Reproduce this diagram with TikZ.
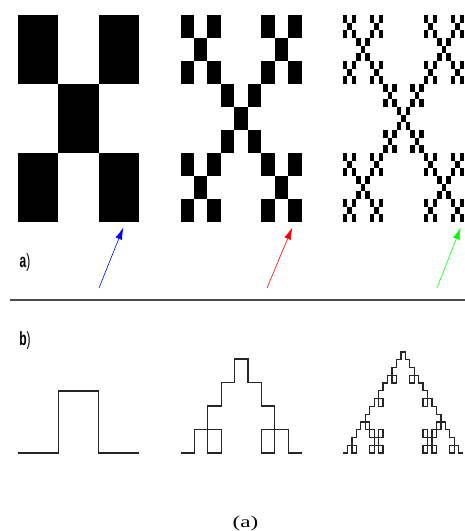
\documentclass[tikz,border=0pt]{standalone}
\usepackage{fontspec}
\setmainfont{Liberation Serif}
\setsansfont{Liberation Sans}
\usepackage{tikz}
\usetikzlibrary{arrows.meta,lindenmayersystems}

\pgfdeclarelindenmayersystem{square koch}{\rule{F -> F+F-F-F+F}}

\tikzset{
  cell/.style={fill=black},
  curve/.style={line width=1.3pt,draw=black!85},
  pointer/.style={line width=0.6pt,-{Latex[length=12pt,width=7pt]}},
  part/.style={font=\sffamily\bfseries\fontsize{12}{12}\selectfont,yscale=1.6}
}

\begin{document}
\begin{tikzpicture}[x=1pt,y=-1pt]
  \useasboundingbox (0,0) rectangle (465,531);
  \def\xcells{0/0,2/0,1/1,0/2,2/2}
  \def\pw{121}
  \def\ph{207}

  % top row: the X fractal, orders 1 to 3
  \foreach \a/\b in \xcells
    \fill[cell] (18+\a*\pw/3,15+\b*\ph/3) rectangle ++(\pw/3,\ph/3);
  \foreach \a/\b in \xcells
    \foreach \c/\d in \xcells
      \fill[cell] (180.5+\a*\pw/3+\c*\pw/9,15+\b*\ph/3+\d*\ph/9) rectangle ++(\pw/9,\ph/9);
  \foreach \a/\b in \xcells
    \foreach \c/\d in \xcells
      \foreach \e/\f in \xcells
        \fill[cell] (343+\a*\pw/3+\c*\pw/9+\e*\pw/27,15+\b*\ph/3+\d*\ph/9+\f*\ph/27) rectangle ++(\pw/27,\ph/27);

  \node[part] (la) at (25,263) {a\textmd{)}};

  % arrows
  \coordinate (blue tail) at (99,288);
  \coordinate (blue tip) at (123.3,227.5);
  \coordinate (red tail) at (267,288);
  \coordinate (red tip) at (292.3,227.5);
  \coordinate (green tail) at (437,288);
  \coordinate (green tip) at (460.7,227.5);
  \draw[pointer,blue] (blue tail) -- (blue tip);
  \draw[pointer,red] (red tail) -- (red tip);
  \draw[pointer,green] (green tail) -- (green tip);

  % divider
  \coordinate (rule left) at (10,300);
  \coordinate (rule right) at (465,300);
  \draw[line width=2.4pt,black!70] (rule left) -- (rule right);

  \node[part] (lb) at (25,341) {b\textmd{)}};

  % bottom row: the square Koch curve, orders 1 to 3
  \begin{scope}[shift={(18,453)},xscale=40.2,yscale=62]
    \draw[curve,lindenmayer system={square koch, axiom=F, order=1, step=1pt, angle=90}]
      (0,0) lindenmayer system;
  \end{scope}
  \begin{scope}[shift={(181,453)},xscale=13.4,yscale=23.5]
    \draw[curve,lindenmayer system={square koch, axiom=F, order=2, step=1pt, angle=90}]
      (0,0) lindenmayer system;
  \end{scope}
  \begin{scope}[shift={(343,453)},xscale=4.45,yscale=7.77]
    \draw[curve,lindenmayer system={square koch, axiom=F, order=3, step=1pt, angle=90}]
      (0,0) lindenmayer system;
  \end{scope}

  \node[font=\fontsize{16.5}{16.5}\selectfont,xscale=1.4,inner sep=0pt] (caption) at (245.5,524) {(a)};
\end{tikzpicture}
\end{document}
